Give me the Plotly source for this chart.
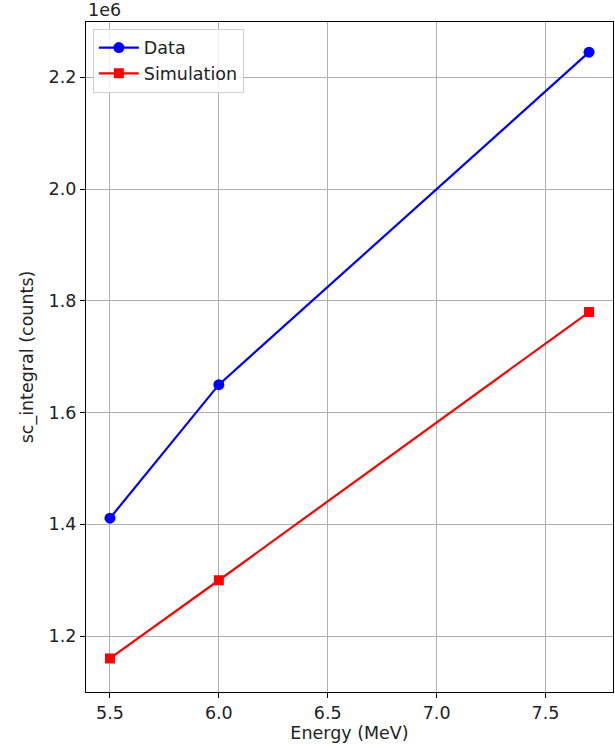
import plotly.graph_objects as go

energy = [5.5, 6.0, 7.7]
data_counts = [1.411e6, 1.650e6, 2.245e6]
sim_counts = [1.160e6, 1.300e6, 1.780e6]

x_ticks = [5.5, 6.0, 6.5, 7.0, 7.5]
y_ticks = [1.2e6, 1.4e6, 1.6e6, 1.8e6, 2.0e6, 2.2e6]
y_ticktext = ["1.2", "1.4", "1.6", "1.8", "2.0", "2.2"]

FONT = "DejaVu Sans"
FS = 17.5
TXT = "#222222"

fig = go.Figure()
fig.add_trace(go.Scatter(
    x=energy, y=data_counts, mode="lines+markers", name="Data",
    line=dict(color="#0000ff", width=2.2),
    marker=dict(symbol="circle", size=11, color="#0000ff"),
))
fig.add_trace(go.Scatter(
    x=energy, y=sim_counts, mode="lines+markers", name="Simulation",
    line=dict(color="#ff0000", width=2.2),
    marker=dict(symbol="square", size=10, color="#ff0000"),
))

axis_common = dict(
    showline=True, linecolor="black", linewidth=1.2, mirror=True,
    showgrid=True, gridcolor="#b0b0b0", gridwidth=1,
    ticks="outside", ticklen=5, tickcolor="black", tickwidth=1.2,
    zeroline=False, tickfont=dict(family=FONT, size=FS, color=TXT),
)

fig.update_layout(
    width=615, height=747,
    margin=dict(l=86, r=2, t=22, b=55),
    paper_bgcolor="white", plot_bgcolor="white",
    font=dict(family=FONT, size=FS, color=TXT),
    showlegend=True,
    legend=dict(
        x=0.013, y=0.99, xanchor="left", yanchor="top",
        bgcolor="rgba(255,255,255,0.8)", bordercolor="#d0d0d0", borderwidth=1,
        font=dict(family=FONT, size=FS, color=TXT),
        itemwidth=40,
    ),
    xaxis=dict(
        range=[5.39, 7.81], tickvals=x_ticks, tickformat=".1f",
        title=dict(text="Energy (MeV)", standoff=2,
                   font=dict(family=FONT, size=FS, color=TXT)),
        **axis_common,
    ),
    yaxis=dict(
        range=[1.1e6, 2.299e6], tickvals=y_ticks, ticktext=y_ticktext,
        title=dict(text="sc_integral (counts)", standoff=10,
                   font=dict(family=FONT, size=FS, color=TXT)),
        **axis_common,
    ),
    annotations=[dict(
        text="1e6", xref="paper", yref="paper", x=0, y=1.0,
        xanchor="left", yanchor="bottom", showarrow=False,
        font=dict(family=FONT, size=FS, color=TXT),
    )],
)

fig.write_html("out.html")
